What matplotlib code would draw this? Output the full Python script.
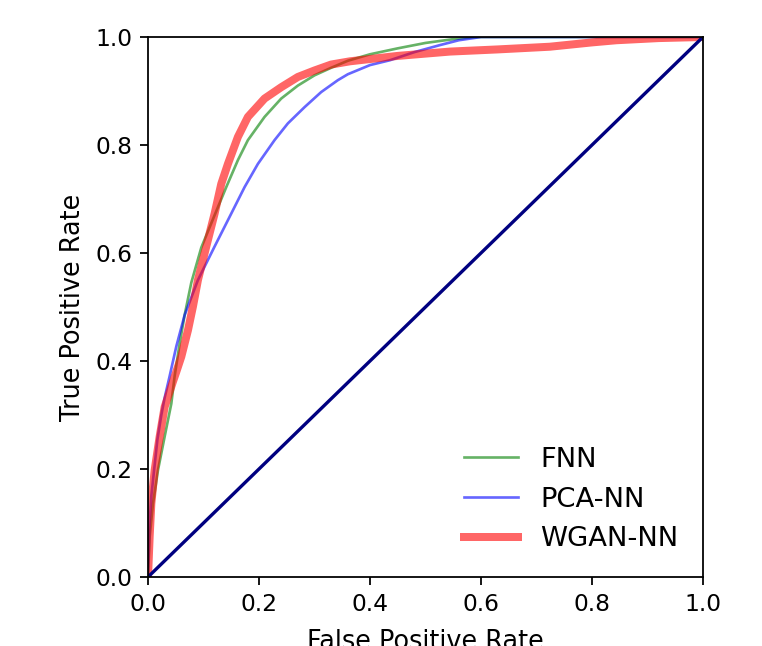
import matplotlib
matplotlib.use("Agg")
import matplotlib.pyplot as plt

# ROC points (FPR, TPR)
fnn_fpr = [0.0, 0.003, 0.009, 0.018, 0.030, 0.042, 0.048, 0.057, 0.066, 0.078, 0.096, 0.120,
           0.141, 0.162, 0.180, 0.210, 0.240, 0.270, 0.300, 0.330, 0.360, 0.40, 0.45, 0.50,
           0.55, 0.58, 0.6, 1.0]
fnn_tpr = [0.0, 0.075, 0.136, 0.198, 0.260, 0.321, 0.372, 0.432, 0.485, 0.545, 0.610, 0.670,
           0.722, 0.772, 0.809, 0.852, 0.886, 0.910, 0.929, 0.943, 0.956, 0.968, 0.979, 0.989,
           0.996, 0.999, 1.0, 1.0]

pca_fpr = [0.0, 0.003, 0.006, 0.011, 0.017, 0.024, 0.030, 0.039, 0.051, 0.066, 0.090, 0.120,
           0.150, 0.174, 0.198, 0.228, 0.252, 0.282, 0.312, 0.342, 0.360, 0.40, 0.436, 0.48,
           0.526, 0.56, 0.6, 1.0]
pca_tpr = [0.0, 0.10, 0.15, 0.198, 0.255, 0.300, 0.332, 0.372, 0.427, 0.485, 0.550, 0.612,
           0.673, 0.722, 0.765, 0.809, 0.840, 0.870, 0.898, 0.920, 0.931, 0.948, 0.957, 0.972,
           0.985, 0.994, 1.0, 1.0]

wgan_fpr = [0.0, 0.003, 0.006, 0.012, 0.021, 0.030, 0.045, 0.051, 0.060, 0.072, 0.081, 0.090,
            0.105, 0.120, 0.132, 0.144, 0.162, 0.180, 0.210, 0.240, 0.270, 0.300, 0.330,
            0.364, 0.45, 0.544, 0.63, 0.724, 0.80, 0.844, 0.92, 1.0]
wgan_tpr = [0.0, 0.075, 0.136, 0.198, 0.260, 0.315, 0.362, 0.380, 0.408, 0.457, 0.501, 0.550,
            0.612, 0.673, 0.728, 0.765, 0.815, 0.852, 0.886, 0.907, 0.926, 0.938, 0.949,
            0.955, 0.965, 0.973, 0.977, 0.982, 0.990, 0.994, 0.998, 1.0]

chance = [0.0, 1.0]

fig = plt.figure(figsize=(762 / 160, 646 / 160), dpi=160)
ax = fig.add_axes([148 / 762, 1 - 577 / 646, 555 / 762, 540 / 646])

ax.plot(fnn_fpr, fnn_tpr, color="green", alpha=0.6, lw=1.2, label="FNN")
ax.plot(pca_fpr, pca_tpr, color="blue", alpha=0.6, lw=1.2, label="PCA-NN")
ax.plot(wgan_fpr, wgan_tpr, color="red", alpha=0.6, lw=3.6, label="WGAN-NN")
ax.plot(chance, chance, color="navy", lw=1.5)

ax.set_xlim(0, 1)
ax.set_ylim(0, 1)
ax.tick_params(labelsize=10.5, length=3.6)
ax.set_xlabel("False Positive Rate", fontsize=11.5, labelpad=6)
ax.set_ylabel("True Positive Rate", fontsize=11.5)
ax.legend(loc="lower right", frameon=False, fontsize=12.3)

fig.savefig("out.png", dpi=160)
